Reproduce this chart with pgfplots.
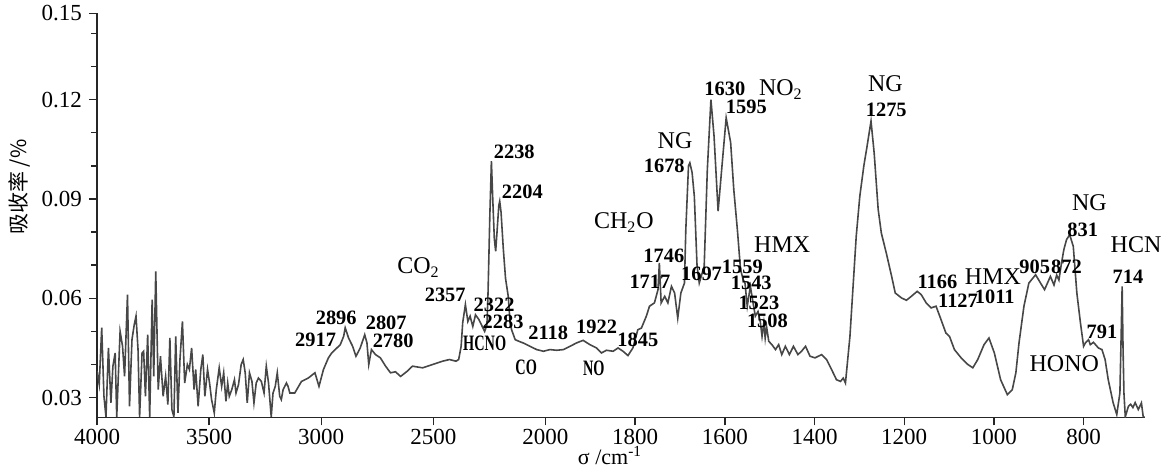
\documentclass[border=0pt]{standalone}
\usepackage{fontspec}
\setmainfont{Liberation Serif}
\newfontfamily\cjk{Noto Sans CJK SC}
\usepackage{pgfplots}
\pgfplotsset{compat=1.18}

% peak numbers, species names, small condensed names
\newcommand\pkfont{\fontsize{10.2}{10.5}\selectfont\bfseries}
\newcommand\spfont{\fontsize{12}{13}\selectfont}
\newcommand\smfont{\fontsize{11}{12}\selectfont\bfseries}

\begin{document}
\begin{tikzpicture}
\begin{axis}[
  width=524pt, height=202pt, scale only axis,
  % scale change at 2000 cm-1 (x2 below)
  x coord trafo/.code={\pgfmathparse{#1>=2000 ? 4000-#1 : 6000-2*#1}},
  xmin=4000, xmax=663,
  ymin=0.024, ymax=0.146,
  clip mode=individual,
  axis x line*=bottom, axis y line*=left,
  x axis line style={-}, y axis line style={-},
  axis line style={line width=0.8pt, black!85},
  xtick={4000,3500,3000,2500,2000,1800,1600,1400,1200,1000,800},
  xticklabels={4000,3500,3000,2500,2000,1800,1600,1400,1200,1000,800},
  ytick={0.03,0.06,0.09,0.12,0.146},
  yticklabels={0.03,0.06,0.09,0.12,0.15},
  minor ytick={0.04,0.05,0.07,0.08,0.10,0.11,0.13,0.14},
  tick align=outside, major tick length=4pt, minor tick length=3pt,
  tick style={line width=0.7pt, black!85},
  ticklabel style={font=\fontsize{11.5}{12}\selectfont},
  xticklabel style={yshift=1.5pt},
  xlabel={σ /cm\textsuperscript{-1}},
  ylabel={\cjk 吸收率 /\%},
  every axis x label/.style={at={(axis description cs:0.4895,0)}, anchor=base,
    yshift=-23.3pt, font=\fontsize{11}{12}\selectfont},
  every axis y label/.style={at={(axis description cs:-0.0735,0.57)}, anchor=center,
    rotate=90, font=\fontsize{10.5}{12}\selectfont},
]
\addplot[black!72, line width=0.8pt] coordinates {
(4000,0.038) (3990,0.034) (3979,0.0511) (3969,0.0304) (3960,0.0242)
(3949,0.0450) (3938,0.0284) (3929,0.0395) (3919,0.0435) (3912,0.0242)
(3897,0.0500) (3886,0.0455) (3877,0.0364) (3864,0.0611) (3855,0.0274)
(3844,0.0475) (3834,0.0520) (3826,0.0546) (3817,0.0445) (3810,0.0242)
(3799,0.0435) (3792,0.0440) (3784,0.0304) (3774,0.0490) (3765,0.0242)
(3754,0.0596) (3747,0.0364) (3738,0.0681) (3727,0.0324) (3717,0.0425)
(3705,0.0304) (3694,0.0364) (3684,0.0279) (3675,0.0480) (3666,0.0264)
(3657,0.0242) (3649,0.0485) (3639,0.0254) (3630,0.0415) (3619,0.0530)
(3609,0.0344) (3597,0.0400) (3588,0.0385) (3578,0.0450) (3567,0.0324)
(3560,0.0385) (3549,0.0274) (3537,0.0385) (3528,0.0430) (3519,0.0304)
(3507,0.0385) (3498,0.0344) (3489,0.0294) (3477,0.0254) (3468,0.0324)
(3455,0.0390) (3444,0.0334) (3435,0.0375) (3425,0.0289) (3417,0.0344)
(3410,0.0304) (3399,0.0324) (3387,0.0354) (3380,0.0314) (3369,0.0339)
(3357,0.0400) (3348,0.0415) (3339,0.0375) (3330,0.0284) (3320,0.0375)
(3309,0.0349) (3300,0.0284) (3290,0.0344) (3280,0.0359) (3267,0.0349)
(3255,0.0314) (3245,0.0395) (3235,0.0344) (3223,0.0242) (3215,0.0314)
(3205,0.0334) (3196,0.0375) (3185,0.0304) (3178,0.0294) (3170,0.0324)
(3155,0.0344) (3148,0.0334) (3140,0.0314) (3118,0.0314) (3088,0.0349)
(3058,0.0359) (3028,0.0375) (3010,0.0334) (2990,0.0385) (2968,0.0420)
(2953,0.0435) (2930,0.0450) (2915,0.0460) (2900,0.0485) (2893,0.0511)
(2878,0.0480) (2860,0.0455) (2845,0.0425) (2826,0.0450) (2806,0.0490)
(2796,0.0465) (2788,0.0400) (2776,0.0445) (2758,0.0430) (2736,0.0420)
(2713,0.0395) (2691,0.0375) (2669,0.0378) (2646,0.0364) (2616,0.0380)
(2593,0.0395) (2548,0.0390) (2503,0.0400) (2459,0.0410) (2428,0.0415)
(2399,0.0410) (2387,0.0415) (2376,0.0455) (2369,0.0526) (2357,0.0581)
(2346,0.0530) (2336,0.0546) (2324,0.0515) (2312,0.0550) (2297,0.0536)
(2282,0.0515) (2271,0.0500) (2261,0.0520) (2256,0.0617) (2248,0.0850)
(2241,0.1014) (2235,0.0900) (2228,0.0780) (2222,0.0742) (2216,0.0800)
(2208,0.0880) (2204,0.0893) (2198,0.0860) (2188,0.0750) (2178,0.0660)
(2166,0.0606) (2158,0.0530) (2151,0.0505) (2135,0.0475) (2118,0.0470)
(2099,0.0465) (2069,0.0455) (2039,0.0445) (2009,0.0440) (1990,0.0445)
(1975,0.0443) (1960,0.0445) (1945,0.0455) (1931,0.0465) (1916,0.0473)
(1901,0.0460) (1886,0.0450) (1875,0.0435) (1864,0.0443) (1849,0.0440)
(1838,0.0450) (1827,0.0440) (1816,0.0427) (1805,0.0450) (1794,0.0505)
(1786,0.0510) (1775,0.0546) (1768,0.0576) (1757,0.0586) (1749,0.0626)
(1746,0.0707) (1742,0.0586) (1734,0.0606) (1727,0.0586) (1719,0.0636)
(1712,0.0616) (1705,0.0540) (1698,0.0616) (1690,0.0646) (1687,0.0807)
(1681,0.1000) (1678,0.1009) (1673,0.0980) (1668,0.0908) (1662,0.0700)
(1657,0.0646) (1646,0.0697) (1639,0.0989) (1631,0.1200) (1624,0.1089)
(1615,0.0863) (1607,0.0989) (1597,0.1145) (1587,0.1070) (1580,0.0928)
(1572,0.0807) (1565,0.0687) (1559,0.0656) (1555,0.0646) (1550,0.0576)
(1543,0.0636) (1537,0.0586) (1532,0.0546) (1526,0.0560) (1521,0.0530)
(1517,0.0485) (1513,0.0526) (1510,0.0480) (1507,0.0515) (1502,0.0470)
(1495,0.0460) (1487,0.0445) (1480,0.0460) (1473,0.0430) (1465,0.0455)
(1456,0.0430) (1447,0.0455) (1437,0.0430) (1429,0.0440) (1420,0.0455)
(1410,0.0425) (1399,0.0420) (1384,0.0430) (1373,0.0415) (1362,0.0385)
(1351,0.0354) (1342,0.0349) (1336,0.0359) (1331,0.0344) (1321,0.0485)
(1314,0.0636) (1307,0.0787) (1299,0.0908) (1290,0.1000) (1284,0.1049)
(1274,0.1135) (1267,0.1039) (1258,0.0868) (1251,0.0797) (1240,0.0737)
(1228,0.0666) (1220,0.0616) (1206,0.0601) (1195,0.0594) (1184,0.0606)
(1171,0.0621) (1162,0.0611) (1151,0.0586) (1140,0.0571) (1129,0.0576)
(1118,0.0536) (1107,0.0495) (1099,0.0485) (1088,0.0445) (1073,0.0420)
(1058,0.0400) (1047,0.0390) (1036,0.0415) (1022,0.0460) (1011,0.0480)
(999,0.0435) (985,0.0354) (970,0.0309) (959,0.0324) (951,0.0375)
(944,0.0465) (933,0.0576) (922,0.0646) (907,0.0671) (896,0.0646)
(887,0.0626) (874,0.0666) (866,0.0640) (860,0.0670) (855,0.0655)
(850,0.0700) (844,0.0747) (838,0.0777) (831,0.0792) (823,0.0757)
(815,0.0616) (807,0.0526) (800,0.0455) (796,0.0465) (789,0.0475)
(785,0.0460) (778,0.0467) (767,0.0450) (759,0.0445) (752,0.0415)
(745,0.0354) (734,0.0284) (726,0.0249) (719,0.0314) (716,0.0500)
(714,0.0636) (712,0.0450) (710,0.0314) (707,0.0242) (700,0.0274)
(695,0.0280) (690,0.0270) (685,0.0285) (678,0.0264) (671,0.0284)
(667,0.0242) (664,0.0242)
};

% species
\node[font=\spfont] at (axis cs:2566,0.0693) {CO\textsubscript{2}};
\node[font=\spfont] at (axis cs:1825,0.0828) {CH\textsubscript{2}O};
\node[font=\spfont] at (axis cs:1711,0.1077) {NG};
\node[font=\spfont] at (axis cs:1475,0.1230) {NO\textsubscript{2}};
\node[font=\spfont] at (axis cs:1472,0.0762) {HMX};
\node[font=\spfont] at (axis cs:1242,0.1248) {NG};
\node[font=\spfont] at (axis cs:1002,0.0664) {HMX};
\node[font=\spfont] at (axis cs:787,0.0888) {NG};
\node[font=\spfont] at (axis cs:683,0.0762) {HCN};
\node[font=\spfont] at (axis cs:843,0.0403) {HONO};
\node[font=\smfont, xscale=0.65] at (axis cs:2271,0.0465) {HCNO};
\node[font=\smfont, xscale=0.65] at (axis cs:2086,0.0392) {CO};
\node[font=\smfont, xscale=0.65] at (axis cs:1892,0.0388) {NO};

% peak numbers
\node[font=\pkfont] at (axis cs:3025,0.0475) {2917};
\node[font=\pkfont] at (axis cs:2933,0.0542) {2896};
\node[font=\pkfont] at (axis cs:2710,0.0527) {2807};
\node[font=\pkfont] at (axis cs:2679,0.0472) {2780};
\node[font=\pkfont] at (axis cs:2447,0.0611) {2357};
\node[font=\pkfont] at (axis cs:2229,0.0581) {2322};
\node[font=\pkfont] at (axis cs:2189,0.0530) {2283};
\node[font=\pkfont] at (axis cs:2139,0.1041) {2238};
\node[font=\pkfont] at (axis cs:2103,0.0921) {2204};
\node[font=\pkfont] at (axis cs:1994,0.0495) {2118};
\node[font=\pkfont] at (axis cs:1886,0.0515) {1922};
\node[font=\pkfont] at (axis cs:1794,0.0475) {1845};
\node[font=\pkfont] at (axis cs:1736,0.0729) {1746};
\node[font=\pkfont] at (axis cs:1767,0.0649) {1717};
\node[font=\pkfont] at (axis cs:1652,0.0675) {1697};
\node[font=\pkfont] at (axis cs:1735,0.1001) {1678};
\node[font=\pkfont] at (axis cs:1600,0.1233) {1630};
\node[font=\pkfont] at (axis cs:1552,0.1177) {1595};
\node[font=\pkfont] at (axis cs:1561,0.0696) {1559};
\node[font=\pkfont] at (axis cs:1541,0.0646) {1543};
\node[font=\pkfont] at (axis cs:1524,0.0586) {1523};
\node[font=\pkfont] at (axis cs:1505,0.0531) {1508};
\node[font=\pkfont] at (axis cs:1240,0.1170) {1275};
\node[font=\pkfont] at (axis cs:1126,0.0651) {1166};
\node[font=\pkfont] at (axis cs:1080,0.0592) {1127};
\node[font=\pkfont] at (axis cs:998,0.0604) {1011};
\node[font=\pkfont] at (axis cs:909,0.0694) {905};
\node[font=\pkfont] at (axis cs:838,0.0694) {872};
\node[font=\pkfont] at (axis cs:802,0.0807) {831};
\node[font=\pkfont] at (axis cs:701,0.0666) {714};
\node[font=\pkfont] at (axis cs:759,0.0498) {791};
\end{axis}
\pgfresetboundingbox
\path ([shift={(-48.5pt,-25.25pt)}]current axis.south west)
  rectangle ([shift={(10pt,6.75pt)}]current axis.north east);
\end{tikzpicture}
\end{document}
